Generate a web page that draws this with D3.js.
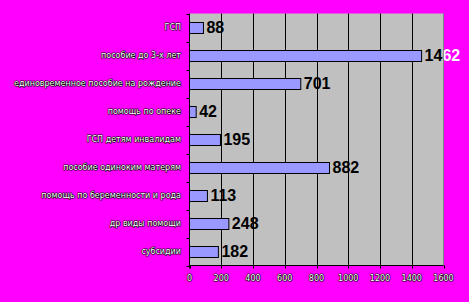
<!DOCTYPE html>
<html>
<head>
<meta charset="utf-8">
<script src="https://cdn.jsdelivr.net/npm/d3@7"></script>
<style>
    html, body { margin: 0; padding: 0; background: #ff00ff; }
    svg { display: block; }
    .lbl { font-family: "DejaVu Sans", sans-serif; font-size: 8px; fill: #ffffff; stroke: #000000; stroke-width: 1.2px; paint-order: stroke; stroke-linejoin: round; }
    .val { font-family: "Liberation Sans", Arial, sans-serif; font-size: 16px; font-weight: bold; }
</style>
</head>
<body>
<script>
(function () {
    'use strict';

    var categories = [
        'ГСП',
        'пособие до 3-х лет',
        'единовременное пособие на рождение',
        'помощь по опеке',
        'ГСП детям инвалидам',
        'пособие одиноким матерям',
        'помощь по беременности и рода',
        'др виды помощи',
        'субсидии'
    ];
    var values = [88, 1462, 701, 42, 195, 882, 113, 248, 182];
    var xTicks = [0, 200, 400, 600, 800, 1000, 1200, 1400, 1600];

    var width = 469, height = 302;
    var plot = { left: 189.5, right: 443.5, top: 13.5, bottom: 265.5 };
    var barFill = '#9999ff';
    var plotFill = '#c0c0c0';

    var svg = d3.select('body').append('svg')
        .attr('width', width)
        .attr('height', height);

    var x = d3.scaleLinear()
        .domain([0, 1600])
        .range([plot.left, plot.right]);

    var y = d3.scaleBand()
        .domain(categories)
        .range([plot.top, plot.bottom])
        .paddingInner(0.6)
        .paddingOuter(0.3);

    var yEdge = d3.scaleLinear()
        .domain([0, categories.length])
        .range([plot.top, plot.bottom]);

    // plot area
    svg.append('rect')
        .attr('x', plot.left)
        .attr('y', plot.top)
        .attr('width', plot.right - plot.left)
        .attr('height', plot.bottom - plot.top)
        .style('fill', plotFill);

    svg.append('line')
        .attr('x1', plot.right).attr('x2', plot.right)
        .attr('y1', plot.top).attr('y2', plot.bottom)
        .style('stroke', '#808080');

    // gridlines
    svg.append('g').selectAll('line')
        .data(xTicks.slice(1, -1))
        .enter().append('line')
        .attr('x1', function (d) { return Math.round(x(d)) + 0.5; })
        .attr('x2', function (d) { return Math.round(x(d)) + 0.5; })
        .attr('y1', plot.top)
        .attr('y2', plot.bottom)
        .style('stroke', '#000')
        .style('stroke-width', 1);

    // bars
    svg.append('g').selectAll('rect')
        .data(values)
        .enter().append('rect')
        .attr('x', x(0))
        .attr('y', function (d, i) { return Math.round(y(categories[i])) + 0.5; })
        .attr('width', function (d) { return x(d) - x(0); })
        .attr('height', Math.round(y.bandwidth()))
        .style('fill', barFill)
        .style('stroke', '#000')
        .style('stroke-width', 1);

    // axes
    svg.append('line')
        .attr('x1', plot.left).attr('x2', plot.left)
        .attr('y1', plot.top).attr('y2', plot.bottom + 3)
        .style('stroke', '#000');
    svg.append('line')
        .attr('x1', plot.left).attr('x2', plot.right)
        .attr('y1', plot.bottom).attr('y2', plot.bottom)
        .style('stroke', '#000');

    svg.append('g').selectAll('line')
        .data(d3.range(categories.length + 1))
        .enter().append('line')
        .attr('x1', plot.left - 3).attr('x2', plot.left)
        .attr('y1', function (d) { return Math.round(yEdge(d)) + 0.5; })
        .attr('y2', function (d) { return Math.round(yEdge(d)) + 0.5; })
        .style('stroke', '#000');

    svg.append('g').selectAll('line')
        .data(xTicks)
        .enter().append('line')
        .attr('x1', function (d) { return Math.round(x(d)) + 0.5; })
        .attr('x2', function (d) { return Math.round(x(d)) + 0.5; })
        .attr('y1', plot.bottom)
        .attr('y2', plot.bottom + 3)
        .style('stroke', '#000');

    // category labels
    svg.append('g').selectAll('text')
        .data(categories)
        .enter().append('text')
        .attr('class', 'lbl')
        .attr('x', 181)
        .attr('y', function (d) { return y(d) + y.bandwidth() / 2; })
        .attr('dy', '0.35em')
        .attr('text-anchor', 'end')
        .text(function (d) { return d; });

    // tick labels
    svg.append('g').selectAll('text')
        .data(xTicks)
        .enter().append('text')
        .attr('class', 'lbl')
        .attr('x', function (d) { return x(d); })
        .attr('y', 281)
        .attr('text-anchor', 'middle')
        .text(function (d) { return d; });

    // value labels: black inside plot, white outside
    var defs = svg.append('defs');
    defs.append('clipPath').attr('id', 'inPlot')
        .append('rect')
        .attr('x', 0).attr('y', 0)
        .attr('width', plot.right).attr('height', height);
    defs.append('clipPath').attr('id', 'outPlot')
        .append('rect')
        .attr('x', plot.right).attr('y', 0)
        .attr('width', width - plot.right).attr('height', height);

    function drawValues(clipId, fill) {
        svg.append('g')
            .attr('clip-path', 'url(#' + clipId + ')')
            .selectAll('text')
            .data(values)
            .enter().append('text')
            .attr('class', 'val')
            .attr('x', function (d) { return x(d) + 3; })
            .attr('y', function (d, i) { return y(categories[i]) + y.bandwidth() / 2; })
            .attr('dy', '0.36em')
            .style('fill', fill)
            .text(function (d) { return d; });
    }
    drawValues('inPlot', '#000');
    drawValues('outPlot', '#fff');
})();
</script>
</body>
</html>
